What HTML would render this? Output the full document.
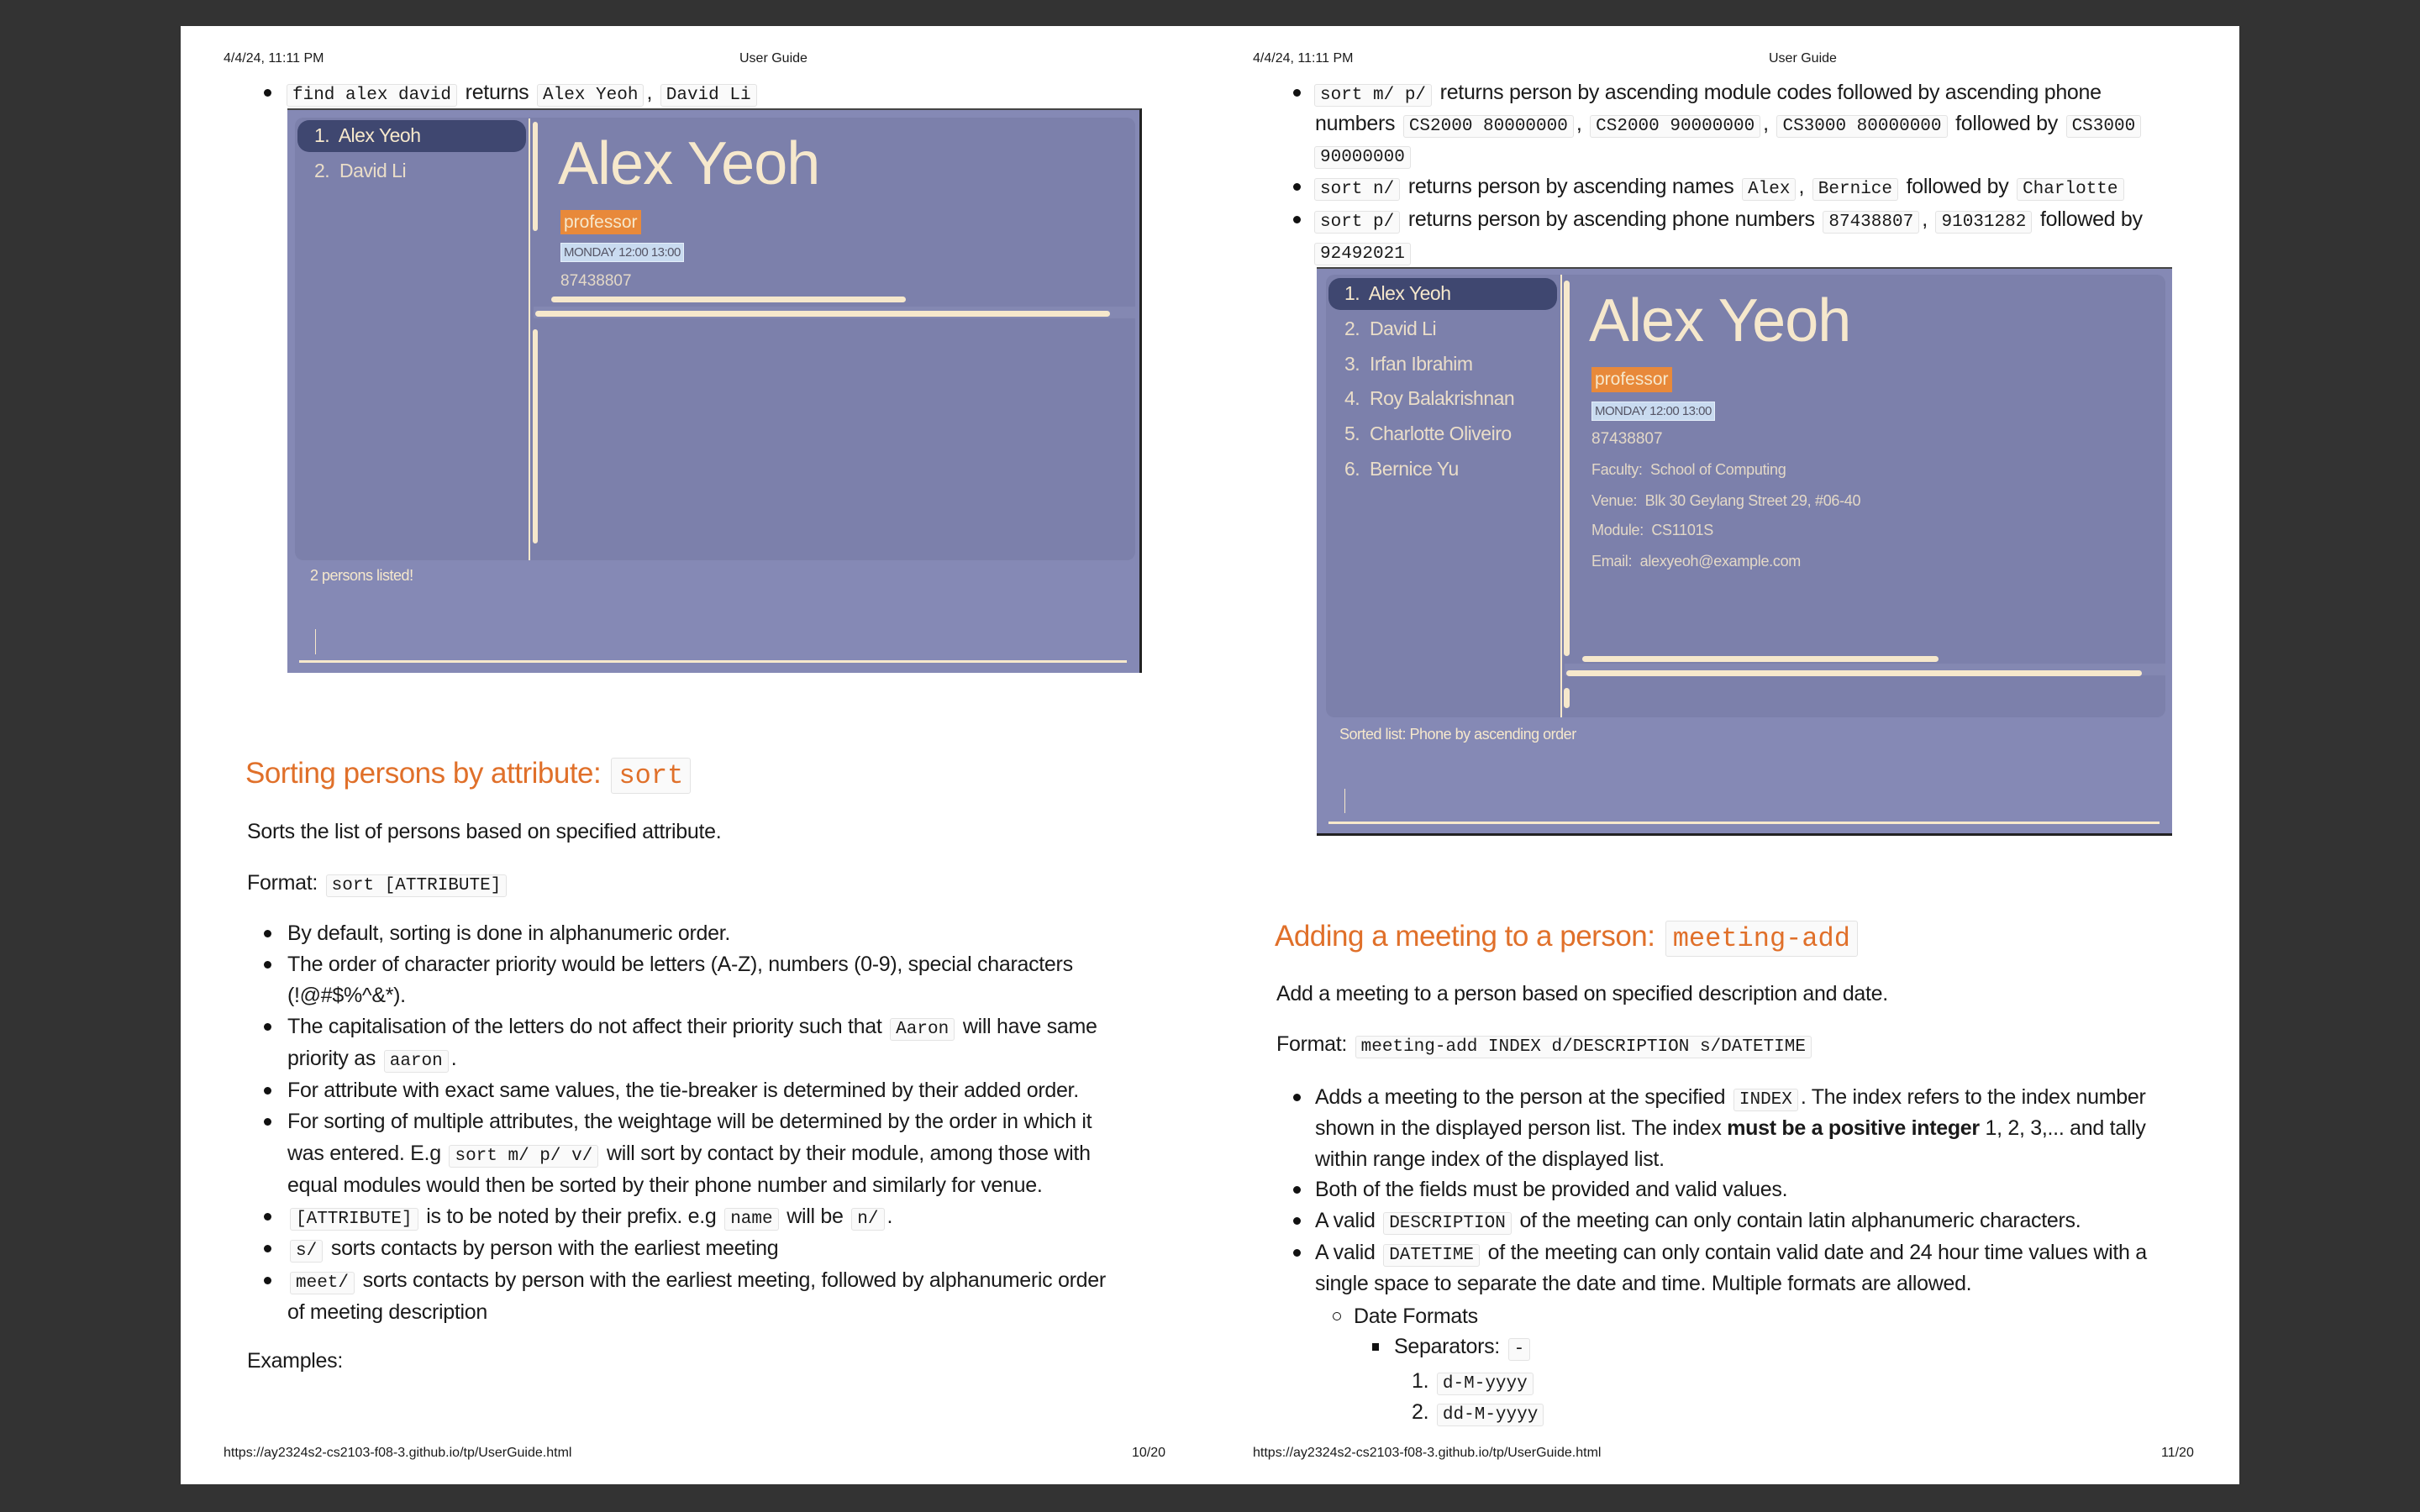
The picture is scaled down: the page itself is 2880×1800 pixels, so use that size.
<!DOCTYPE html>
<html><head><meta charset="utf-8"><style>
*{margin:0;padding:0;box-sizing:border-box}
body{width:2880px;height:1800px;background:#333;position:relative;overflow:hidden;font-family:"Liberation Sans",sans-serif;color:#1a1a1a}
.pg{position:absolute;background:#fff;top:31px;height:1736px}
.a{position:absolute;white-space:nowrap}
.t{position:absolute;white-space:nowrap;font-size:25px;letter-spacing:-0.3px;line-height:30px;height:30px}
.hd{position:absolute;white-space:nowrap;font-size:16px;line-height:18px}
code{font-family:"Liberation Mono",monospace;font-size:21px;letter-spacing:0;background:#fafafa;border:1.5px solid #e3e3e3;border-radius:3px;padding:1px 6px;margin:0 3px}
.b{position:absolute;width:9px;height:9px;border-radius:50%;background:#111}
.h2{position:absolute;white-space:nowrap;font-size:35px;color:#e0702a;letter-spacing:-0.5px;line-height:44px}
.h2 code{font-size:32px;color:#e0702a;padding:2px 8px}
.cr{background:#f6e8cc;position:absolute;border-radius:5px}
.ui{position:absolute;background:#8589b5}
.in{position:absolute;background:#7c80ab;border-radius:10px}
.cream{color:#f6e8cc}
</style></head><body>
<div class="pg" style="left:215px;width:1225px"></div>
<div class="pg" style="left:1440px;width:1225px"></div>

<div class="hd" style="left:266px;top:61px">4/4/24, 11:11 PM</div>
<div class="hd" style="left:880px;top:61px">User Guide</div>
<div class="hd" style="left:1491px;top:61px">4/4/24, 11:11 PM</div>
<div class="hd" style="left:2105px;top:61px">User Guide</div>
<div class="hd" style="left:266px;top:1721px">https://ay2324s2-cs2103-f08-3.github.io/tp/UserGuide.html</div>
<div class="hd" style="left:1347px;top:1721px">10/20</div>
<div class="hd" style="left:1491px;top:1721px">https://ay2324s2-cs2103-f08-3.github.io/tp/UserGuide.html</div>
<div class="hd" style="left:2572px;top:1721px">11/20</div>

<!-- left page -->
<div class="b" style="left:314px;top:106px"></div>
<div class="t" style="left:338px;top:95px"><code>find alex david</code> returns <code>Alex Yeoh</code>, <code>David Li</code></div>

<div class="ui" style="left:342px;top:129px;width:1017px;height:672px;border-top:2px solid #444;border-right:3px solid #222"></div>
<div class="in" style="left:351px;top:140px;width:1000px;height:527px"></div>
<div class="a" style="left:354px;top:143px;width:272px;height:38px;background:#3f4770;border-radius:14px"></div>
<div class="a cream" style="left:374px;top:148px;font-size:23px;letter-spacing:-0.5px">1.&nbsp; Alex Yeoh</div>
<div class="a cream" style="left:374px;top:190px;font-size:23px;letter-spacing:-0.5px;opacity:.9">2.&nbsp; David Li</div>
<div class="a" style="left:629px;top:141px;width:2px;height:526px;background:#f6e8cc"></div>
<div class="cr" style="left:634px;top:145px;width:6px;height:130px"></div>
<div class="cr" style="left:634px;top:392px;width:6px;height:255px"></div>
<div class="a cream" style="left:664px;top:150px;font-size:72px;line-height:90px;letter-spacing:-1px">Alex Yeoh</div>
<div class="a" style="left:667px;top:250px;height:29px;padding:0 4px;background:#e8893a;color:#f6e8cc;font-size:21px;line-height:29px">professor</div>
<div class="a" style="left:667px;top:289px;height:23px;padding:0 3px;background:#c9dbf0;border:1px solid #e4eef9;color:#556;font-size:15px;line-height:21px;letter-spacing:-0.5px">MONDAY 12:00 13:00</div>
<div class="a cream" style="left:667px;top:324px;font-size:19px;opacity:.85">87438807</div>
<div class="a" style="left:635px;top:365px;width:716px;height:14px;background:#8488b2"></div>
<div class="cr" style="left:656px;top:353px;width:422px;height:7px"></div>
<div class="cr" style="left:637px;top:370px;width:684px;height:7px"></div>
<div class="a cream" style="left:369px;top:675px;font-size:18px;letter-spacing:-0.5px">2 persons listed!</div>
<div class="a" style="left:375px;top:749px;width:1px;height:30px;background:#f6e8cc"></div>
<div class="a" style="left:356px;top:786px;width:985px;height:3px;background:#f6e8cc"></div>

<div class="h2" style="left:292px;top:899px">Sorting persons by attribute: <code>sort</code></div>
<div class="t" style="left:294px;top:975px">Sorts the list of persons based on specified attribute.</div>
<div class="t" style="left:294px;top:1036px">Format: <code>sort [ATTRIBUTE]</code></div>
<div class="b" style="left:314px;top:1107px"></div><div class="t" style="left:342px;top:1096px">By default, sorting is done in alphanumeric order.</div>
<div class="b" style="left:314px;top:1144px"></div><div class="t" style="left:342px;top:1133px">The order of character priority would be letters (A-Z), numbers (0-9), special characters</div>
<div class="t" style="left:342px;top:1170px">(!@#$%^&amp;*).</div>
<div class="b" style="left:314px;top:1218px"></div><div class="t" style="left:342px;top:1207px">The capitalisation of the letters do not affect their priority such that <code>Aaron</code> will have same</div>
<div class="t" style="left:342px;top:1245px">priority as <code>aaron</code>.</div>
<div class="b" style="left:314px;top:1294px"></div><div class="t" style="left:342px;top:1283px">For attribute with exact same values, the tie-breaker is determined by their added order.</div>
<div class="b" style="left:314px;top:1331px"></div><div class="t" style="left:342px;top:1320px">For sorting of multiple attributes, the weightage will be determined by the order in which it</div>
<div class="t" style="left:342px;top:1358px">was entered. E.g <code>sort m/ p/ v/</code> will sort by contact by their module, among those with</div>
<div class="t" style="left:342px;top:1396px">equal modules would then be sorted by their phone number and similarly for venue.</div>
<div class="b" style="left:314px;top:1444px"></div><div class="t" style="left:342px;top:1433px"><code>[ATTRIBUTE]</code> is to be noted by their prefix. e.g <code>name</code> will be <code>n/</code>.</div>
<div class="b" style="left:314px;top:1482px"></div><div class="t" style="left:342px;top:1471px"><code>s/</code> sorts contacts by person with the earliest meeting</div>
<div class="b" style="left:314px;top:1520px"></div><div class="t" style="left:342px;top:1509px"><code>meet/</code> sorts contacts by person with the earliest meeting, followed by alphanumeric order</div>
<div class="t" style="left:342px;top:1547px">of meeting description</div>
<div class="t" style="left:294px;top:1605px">Examples:</div>

<!-- right page -->
<div class="b" style="left:1539px;top:106px"></div><div class="t" style="left:1561px;top:95px"><code>sort m/ p/</code> returns person by ascending module codes followed by ascending phone</div>
<div class="t" style="left:1565px;top:132px">numbers <code>CS2000 80000000</code>, <code>CS2000 90000000</code>, <code>CS3000 80000000</code> followed by <code>CS3000</code></div>
<div class="t" style="left:1561px;top:169px"><code>90000000</code></div>
<div class="b" style="left:1539px;top:218px"></div><div class="t" style="left:1561px;top:207px"><code>sort n/</code> returns person by ascending names <code>Alex</code>, <code>Bernice</code> followed by <code>Charlotte</code></div>
<div class="b" style="left:1539px;top:257px"></div><div class="t" style="left:1561px;top:246px"><code>sort p/</code> returns person by ascending phone numbers <code>87438807</code>, <code>91031282</code> followed by</div>
<div class="t" style="left:1561px;top:284px"><code>92492021</code></div>

<div class="ui" style="left:1567px;top:318px;width:1018px;height:677px;border-top:2px solid #444;border-bottom:3px solid #222"></div>
<div class="in" style="left:1578px;top:327px;width:999px;height:527px"></div>
<div class="a" style="left:1581px;top:331px;width:272px;height:38px;background:#3f4770;border-radius:14px"></div>
<div class="a cream" style="left:1600px;top:336px;font-size:23px;letter-spacing:-0.5px">1.&nbsp; Alex Yeoh</div>
<div class="a cream" style="left:1600px;top:378px;font-size:23px;letter-spacing:-0.5px;opacity:.9">2.&nbsp; David Li</div>
<div class="a cream" style="left:1600px;top:420px;font-size:23px;letter-spacing:-0.5px;opacity:.9">3.&nbsp; Irfan Ibrahim</div>
<div class="a cream" style="left:1600px;top:461px;font-size:23px;letter-spacing:-0.5px;opacity:.9">4.&nbsp; Roy Balakrishnan</div>
<div class="a cream" style="left:1600px;top:503px;font-size:23px;letter-spacing:-0.5px;opacity:.9">5.&nbsp; Charlotte Oliveiro</div>
<div class="a cream" style="left:1600px;top:545px;font-size:23px;letter-spacing:-0.5px;opacity:.9">6.&nbsp; Bernice Yu</div>
<div class="a" style="left:1857px;top:327px;width:2px;height:527px;background:#f6e8cc"></div>
<div class="cr" style="left:1861px;top:334px;width:7px;height:447px"></div>
<div class="cr" style="left:1861px;top:819px;width:7px;height:24px"></div>
<div class="a cream" style="left:1891px;top:337px;font-size:72px;line-height:90px;letter-spacing:-1px">Alex Yeoh</div>
<div class="a" style="left:1894px;top:437px;height:30px;padding:0 4px;background:#e8893a;color:#f6e8cc;font-size:21px;line-height:30px">professor</div>
<div class="a" style="left:1894px;top:478px;height:23px;padding:0 3px;background:#c9dbf0;border:1px solid #e4eef9;color:#556;font-size:15px;line-height:21px;letter-spacing:-0.5px">MONDAY 12:00 13:00</div>
<div class="a cream" style="left:1894px;top:512px;font-size:19px;opacity:.85">87438807</div>
<div class="a cream" style="left:1894px;top:549px;font-size:18px;opacity:.85;letter-spacing:-0.3px">Faculty:&nbsp; School of Computing</div>
<div class="a cream" style="left:1894px;top:586px;font-size:18px;opacity:.85;letter-spacing:-0.3px">Venue:&nbsp; Blk 30 Geylang Street 29, #06-40</div>
<div class="a cream" style="left:1894px;top:621px;font-size:18px;opacity:.85;letter-spacing:-0.3px">Module:&nbsp; CS1101S</div>
<div class="a cream" style="left:1894px;top:658px;font-size:18px;opacity:.85;letter-spacing:-0.3px">Email:&nbsp; alexyeoh@example.com</div>
<div class="a" style="left:1862px;top:790px;width:715px;height:14px;background:#8488b2"></div>
<div class="cr" style="left:1883px;top:781px;width:424px;height:7px"></div>
<div class="cr" style="left:1864px;top:798px;width:685px;height:7px"></div>
<div class="a cream" style="left:1594px;top:864px;font-size:18px;letter-spacing:-0.5px">Sorted list: Phone by ascending order</div>
<div class="a" style="left:1600px;top:939px;width:1px;height:29px;background:#f6e8cc"></div>
<div class="a" style="left:1581px;top:978px;width:989px;height:3px;background:#f6e8cc"></div>

<div class="h2" style="left:1517px;top:1093px">Adding a meeting to a person: <code>meeting-add</code></div>
<div class="t" style="left:1519px;top:1168px">Add a meeting to a person based on specified description and date.</div>
<div class="t" style="left:1519px;top:1228px">Format: <code>meeting-add INDEX d/DESCRIPTION s/DATETIME</code></div>
<div class="b" style="left:1539px;top:1302px"></div><div class="t" style="left:1565px;top:1291px">Adds a meeting to the person at the specified <code>INDEX</code>. The index refers to the index number</div>
<div class="t" style="left:1565px;top:1328px">shown in the displayed person list. The index <b>must be a positive integer</b> 1, 2, 3,... and tally</div>
<div class="t" style="left:1565px;top:1365px">within range index of the displayed list.</div>
<div class="b" style="left:1539px;top:1412px"></div><div class="t" style="left:1565px;top:1401px">Both of the fields must be provided and valid values.</div>
<div class="b" style="left:1539px;top:1449px"></div><div class="t" style="left:1565px;top:1438px">A valid <code>DESCRIPTION</code> of the meeting can only contain latin alphanumeric characters.</div>
<div class="b" style="left:1539px;top:1487px"></div><div class="t" style="left:1565px;top:1476px">A valid <code>DATETIME</code> of the meeting can only contain valid date and 24 hour time values with a</div>
<div class="t" style="left:1565px;top:1513px">single space to separate the date and time. Multiple formats are allowed.</div>
<div class="a" style="left:1586px;top:1562px;width:10px;height:10px;border:1.5px solid #111;border-radius:50%"></div>
<div class="t" style="left:1611px;top:1552px">Date Formats</div>
<div class="a" style="left:1633px;top:1599px;width:8px;height:9px;background:#111"></div>
<div class="t" style="left:1659px;top:1588px">Separators: <code>-</code></div>
<div class="t" style="left:1680px;top:1629px">1. <code>d-M-yyyy</code></div>
<div class="t" style="left:1680px;top:1666px">2. <code>dd-M-yyyy</code></div>
</body></html>
